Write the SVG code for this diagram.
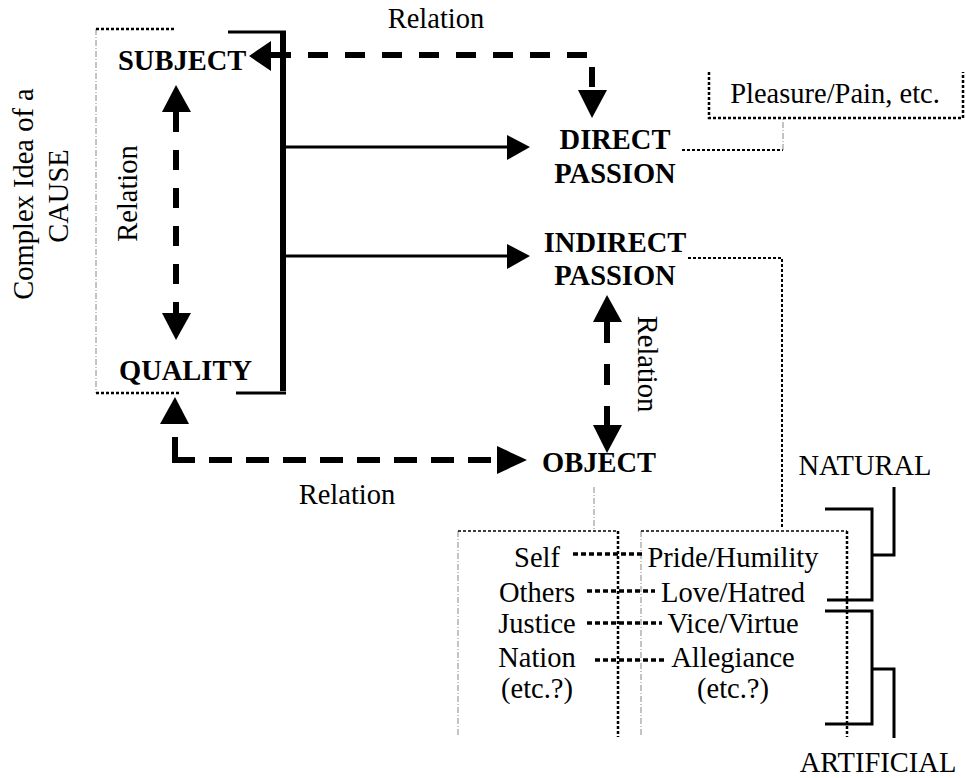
<svg xmlns="http://www.w3.org/2000/svg" width="966" height="778" viewBox="0 0 966 778" font-family="'Liberation Serif', 'Times New Roman', Times, 'DejaVu Serif', serif" font-size="28.5">
  <style>
    .b { font-weight: bold; }
    .c { text-anchor: middle; }
    .dash { fill: none; stroke: #000; stroke-width: 6; }
    .solid { fill: none; stroke: #000; stroke-width: 3; }
    .thick { fill: none; stroke: #000; stroke-width: 6; }
    .head { fill: #000; }
    .dot { fill: none; stroke: #000; stroke-width: 2.5; stroke-dasharray: 3 2; }
    .link { fill: none; stroke: #000; stroke-width: 3.5; stroke-dasharray: 5 3; }
    .faint { fill: none; stroke: #888; stroke-width: 1; stroke-dasharray: 6 2 1 2; }
  </style>
  <rect width="966" height="778" fill="#fff"/>

  <!-- cause group: SUBJECT / QUALITY -->
  <g id="cause">
    <path class="faint" d="M96,29 V393"/>
    <path class="dot" d="M96,29 H175"/>
    <path class="dot" d="M96,393 H180"/>
    <text transform="translate(33,194) rotate(-90)" class="c">Complex Idea of a</text>
    <text transform="translate(68,196) rotate(-90)" class="c">CAUSE</text>
  </g>
  <g id="subject"><text x="118" y="70" class="b">SUBJECT</text></g>
  <g id="quality"><text x="119" y="380" class="b">QUALITY</text></g>

  <g id="direct-passion">
    <text x="615" y="149" class="b c">DIRECT</text>
    <text x="615" y="183" class="b c">PASSION</text>
  </g>
  <g id="indirect-passion">
    <text x="615" y="252" class="b c">INDIRECT</text>
    <text x="615" y="285" class="b c">PASSION</text>
  </g>
  <g id="object"><text x="542" y="472" class="b">OBJECT</text></g>

  <g id="pleasure-pain">
    <path class="dot" d="M709,72 V118 H963 V72"/>
    <text x="835" y="103" class="c">Pleasure/Pain, etc.</text>
  </g>

  <g id="objects-list">
    <path class="faint" d="M458,531 V737"/>
    <path class="dot" style="stroke-width:1.5" d="M458,531 H618"/>
    <path class="dot" d="M618,531 V737"/>
    <text x="537" y="567" class="c">Self</text>
    <text x="537" y="602" class="c">Others</text>
    <text x="537" y="633" class="c">Justice</text>
    <text x="537" y="667" class="c">Nation</text>
    <text x="537" y="698" class="c">(etc.?)</text>
  </g>

  <g id="passions-list">
    <path class="faint" d="M641,531 V737"/>
    <path class="dot" style="stroke-width:1.5" d="M641,531 H847"/>
    <path class="dot" d="M847,531 V737"/>
    <text x="733" y="567" class="c">Pride/Humility</text>
    <text x="733" y="602" class="c">Love/Hatred</text>
    <text x="733" y="633" class="c">Vice/Virtue</text>
    <text x="733" y="667" class="c">Allegiance</text>
    <text x="733" y="698" class="c">(etc.?)</text>
  </g>

  <g id="natural">
    <path class="solid" d="M825,509 H872 V600 H827 M872,555 H894 V487"/>
    <text x="865" y="475" class="c">NATURAL</text>
  </g>
  <g id="artificial">
    <path class="solid" d="M825,611 H872 V724 H825 M872,669 H894 V738"/>
    <text x="878" y="772" class="c">ARTIFICIAL</text>
  </g>

  <g id="connectors">
    <!-- bracket joining subject and quality -->
    <path class="thick" d="M283,32 V391"/>
    <path class="solid" d="M228,32 H286 M236,393 H286"/>
    <path class="solid" d="M283,147 H508 M283,256 H508"/>
    <polygon class="head" points="530,147 507,135 507,160"/>
    <polygon class="head" points="530,256 507,244 507,269"/>

    <!-- relation: subject to direct passion -->
    <path class="dash" style="stroke-dasharray:20 17" d="M271,55 H592 V90"/>
    <polygon class="head" points="249,56 271,41 271,71"/>
    <polygon class="head" points="592,118 578,90 607,90"/>
    <text x="436" y="28" class="c">Relation</text>

    <!-- relation: subject to quality -->
    <path class="dash" style="stroke-dasharray:20 18" d="M176,112 V313"/>
    <polygon class="head" points="176,85 162,112 191,112"/>
    <polygon class="head" points="176,340 162,313 191,313"/>
    <text transform="translate(137,193.5) rotate(-90)" class="c">Relation</text>

    <!-- relation: quality to object -->
    <path class="thick" d="M175,437 V463"/>
    <path class="dash" style="stroke-dasharray:23 14" d="M172,460 H497"/>
    <polygon class="head" points="175,397 160,424 189,424"/>
    <polygon class="head" points="527,460 497,446 497,474"/>
    <text x="347" y="504" class="c">Relation</text>

    <!-- relation: indirect passion to object -->
    <path class="dash" style="stroke-dasharray:21 21" d="M607,322 V425"/>
    <polygon class="head" points="607,295 593,322 622,322"/>
    <polygon class="head" points="607,453 593,425 622,425"/>
    <text transform="translate(638,364) rotate(90)" class="c">Relation</text>

    <!-- annotation leaders -->
    <path class="dot" style="stroke-width:2" d="M682,150 H783"/>
    <path class="faint" d="M783,150 V118"/>
    <path class="dot" style="stroke-width:2" d="M688,258 H782 V529"/>
    <path class="faint" d="M594,487 V531"/>

    <!-- object / passion pairings -->
    <path class="link" d="M573,554 H645"/>
    <path class="link" d="M587,591 H655"/>
    <path class="link" d="M587,623 H662"/>
    <path class="link" d="M595,660 H667"/>
  </g>
</svg>
